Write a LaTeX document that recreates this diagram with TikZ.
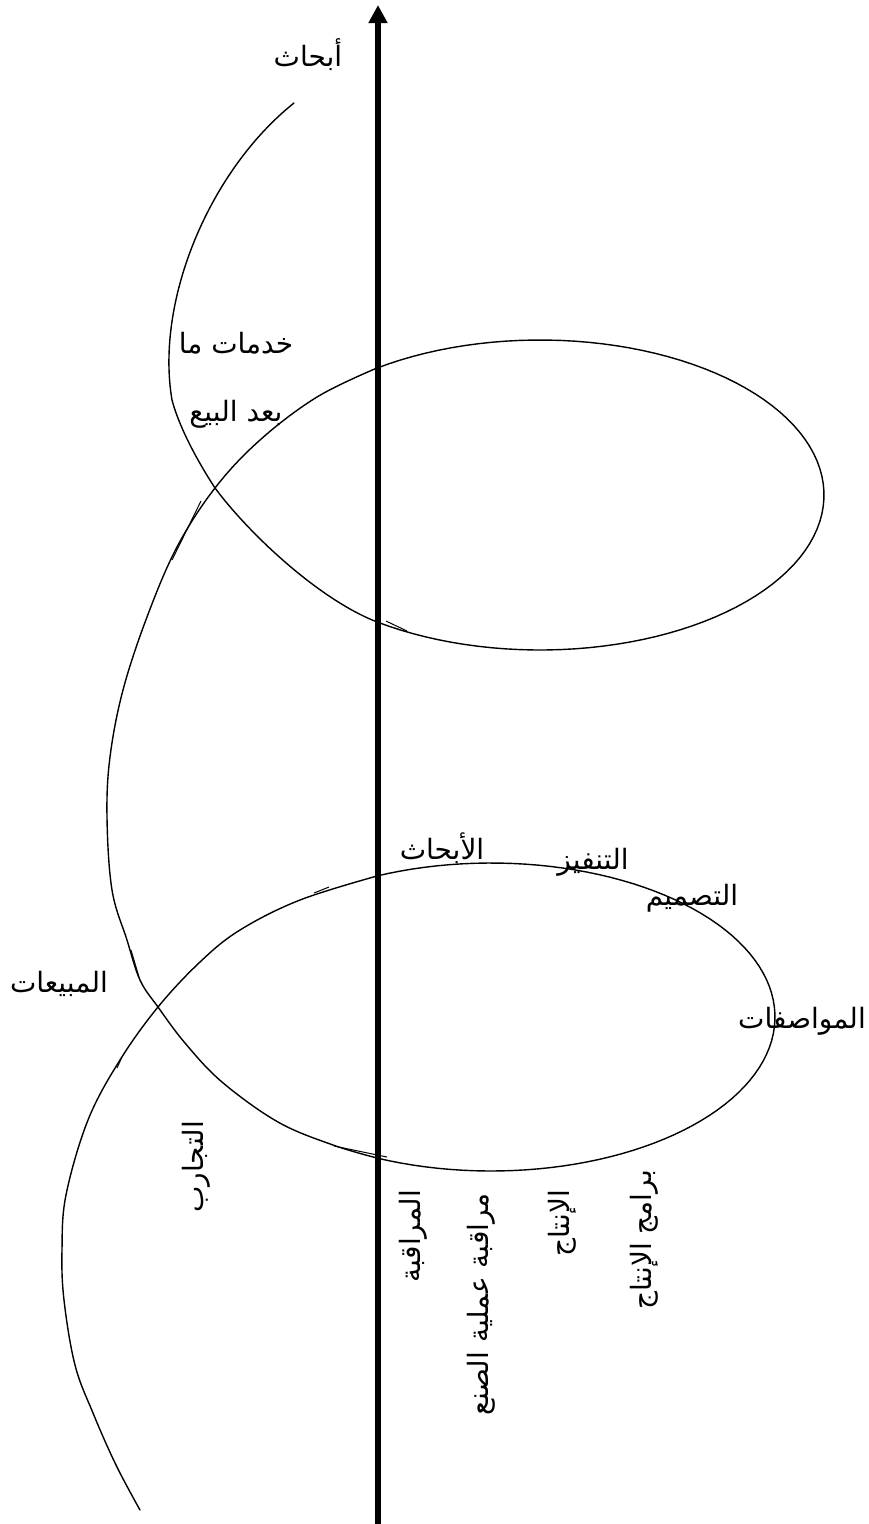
\documentclass[tikz,border=0pt]{standalone}
\usepackage{fontspec}
\newfontfamily\arabicfont[Script=Arabic]{DejaVu Sans}
\TeXXeTstate=1
\usetikzlibrary{arrows.meta}
\tikzset{
  spiral/.style={line width=1.4pt, line join=round, line cap=round},
  tick/.style={line width=1pt},
  lbl/.style={font=\arabicfont\fontsize{28}{32}\selectfont, inner sep=0pt},
  vlbl/.style={lbl, rotate=90, anchor=east},
  axis/.style={line width=6pt, -{Triangle[length=18pt,width=18pt]}}
}
\begin{document}
\begin{tikzpicture}[x=1pt,y=-1pt]
\useasboundingbox (0,0) rectangle (869,1524);
% axis
\coordinate (axbot) at (378,1524);
\coordinate (axtop) at (378,5);
\draw[axis] (axbot) -- (axtop);
% spiral key points
\coordinate (s0) at (140,1510);
\coordinate (cross1) at (215,488);
\coordinate (kink) at (172,400);
\coordinate (s9) at (294,103);
% spiral
\draw[spiral]
  plot[smooth, tension=0.6] coordinates {(140,1510) (116,1465) (93,1413) (75,1365) (64,1300) (62,1250) (66,1195) (88,1120) (120,1060) (158,1007) (200,962) (240,930) (300,900) (377,876)}
  -- plot[domain=-113.7:113.7, samples=90] ({491+284*cos(\x)},{1017+154*sin(\x)})
  -- plot[smooth, tension=0.6] coordinates {(377,1158) (333,1145) (278,1122) (222,1082) (185,1043) (158,1007) (140,980) (127,940) (112,890) (107,817) (110,757) (123,690) (147,617) (177,547) (215,488) (260,440) (317,397) (377,368)}
  -- plot[domain=-125:125, samples=90] ({540+284*cos(\x)},{495+155*sin(\x)})
  .. controls (320,600) and (250,535) .. (cross1)
  .. controls (200,465) and (180,430) .. (kink)
  .. controls (155,300) and (210,170) .. (s9);
% small overlap ticks
\draw[tick] (172,560) -- (201,501);
\draw[tick] (386,621) -- (407,631);
\draw[tick] (131,950) -- (139,977);
\draw[tick] (117,1068) -- (122,1057);
\draw[tick] (334,1146) -- (387,1157);
\draw[tick] (314,893) -- (329,887);
% labels
\node[lbl] (l1) at (308,55) {\beginR أبحاث\endR};
\node[lbl] (l2) at (236,343) {\beginR خدمات ما\endR};
\node[lbl] (l3) at (236,414) {\beginR بعد البيع\endR};
\node[lbl] (l4) at (442,848) {\beginR الأبحاث\endR};
\node[lbl] (l5) at (593,862) {\beginR التنفيز\endR};
\node[lbl] (l6) at (692,898) {\beginR التصميم\endR};
\node[lbl] (l7) at (802,1021) {\beginR المواصفات\endR};
\node[lbl] (l8) at (59,984) {\beginR المبيعات\endR};
\node[vlbl] (v1) at (196,1121) {\beginR التجارب\endR};
\node[vlbl] (v2) at (413,1190) {\beginR المراقبة\endR};
\node[vlbl] (v3) at (481,1193) {\beginR مراقبة عملية الصنع\endR};
\node[vlbl] (v4) at (562,1190) {\beginR الإنتاج\endR};
\node[vlbl] (v5) at (644,1170) {\beginR برامج الإنتاج\endR};
\end{tikzpicture}
\end{document}
